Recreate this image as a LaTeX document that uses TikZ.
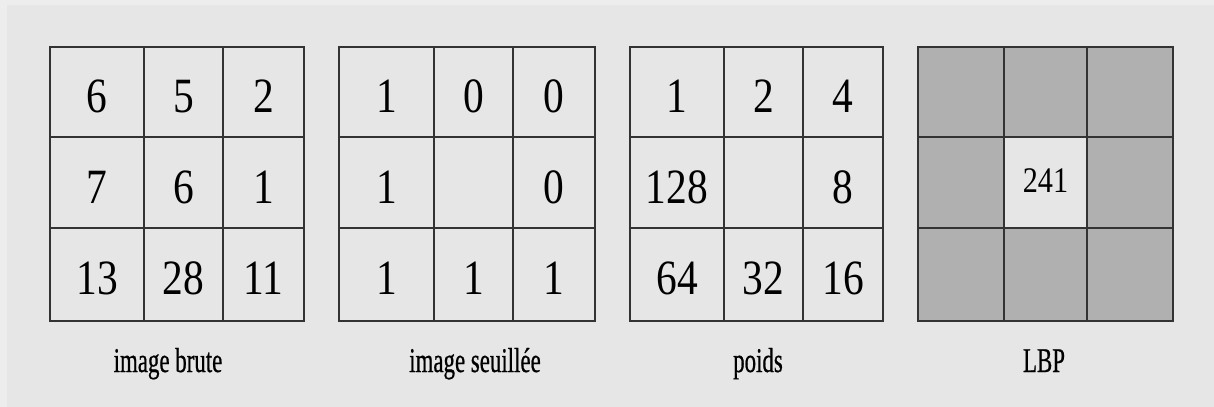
\documentclass[tikz,border=0pt]{standalone}
\usepackage{fontspec}
\setmainfont{Liberation Serif}
\newfontfamily\chiffrefam{Liberation Serif}[FakeStretch=0.84]
\newfontfamily\legendefam{Liberation Serif}[FakeStretch=0.66,FakeBold=0.6]
\newcommand\fontchiffres{\chiffrefam\fontsize{37}{40}\selectfont}
\newcommand\fontpetits{\chiffrefam\fontsize{27}{30}\selectfont}
\newcommand\fontlegendes{\legendefam\fontsize{26}{30}\selectfont}
\usepackage{tikz}
\definecolor{fond}{HTML}{E6E6E6}
\definecolor{fondclair}{HTML}{EDEDED}
\definecolor{gris}{HTML}{B0B0B0}
\definecolor{trait}{HTML}{333333}

\begin{document}
\begin{tikzpicture}[x=0.75pt,y=-0.75pt,
    grille/.style={line width=2pt,draw=trait},
    chiffre/.style={anchor=base,inner sep=0pt,font=\fontchiffres},
    legende/.style={anchor=base,inner sep=0pt,font=\fontlegendes}]
  \useasboundingbox (0,0) rectangle (1214,407);
  \fill[fondclair] (0,0) rectangle (1214,407);
  \fill[fond] (7,5) rectangle (1214,407);
  % image brute
  \draw[grille] (50,47) rectangle (304,321);
  \draw[grille] (144,47) -- (144,321) (223,47) -- (223,321) (50,137) -- (304,137) (50,228) -- (304,228);
  \foreach \x/\y/\v/\n in {97/112/6/hg,183.5/112/5/h,263.5/112/2/hd,
      97/203/7/g,183.5/203/6/c,263.5/203/1/d,
      97/294/13/bg,183.5/294/28/b,263.5/294/11/bd}
    \node[chiffre] (brute-\n) at (\x,\y) {\v};
  \node[legende] (brute) at (168,372) {image brute};
  % image seuillee
  \draw[grille] (339,47) rectangle (595,321);
  \draw[grille] (434,47) -- (434,321) (513,47) -- (513,321) (339,137) -- (595,137) (339,228) -- (595,228);
  \foreach \x/\y/\v/\n in {386.5/112/1/hg,473.5/112/0/h,554/112/0/hd,
      386.5/203/1/g,554/203/0/d,
      386.5/294/1/bg,473.5/294/1/b,554/294/1/bd}
    \node[chiffre] (seuil-\n) at (\x,\y) {\v};
  \node[legende] (seuil) at (475,372) {image seuillée};
  % poids
  \draw[grille] (630,47) rectangle (883,321);
  \draw[grille] (724,47) -- (724,321) (803,47) -- (803,321) (630,137) -- (883,137) (630,228) -- (883,228);
  \foreach \x/\y/\v/\n in {677/112/1/hg,763.5/112/2/h,843/112/4/hd,
      677/203/128/g,843/203/8/d,
      677/294/64/bg,763.5/294/32/b,843/294/16/bd}
    \node[chiffre] (poids-\n) at (\x,\y) {\v};
  \node[legende] (poids) at (758,372) {poids};
  % LBP
  \fill[gris] (918,47) rectangle (1173,321);
  \fill[fond] (1004,137) rectangle (1087,228);
  \draw[grille] (918,47) rectangle (1173,321);
  \draw[grille] (1004,47) -- (1004,321) (1087,47) -- (1087,321) (918,137) -- (1173,137) (918,228) -- (1173,228);
  \node[chiffre,font=\fontpetits] (lbp-c) at (1045.5,192) {241};
  \node[legende] (lbp) at (1044,372) {LBP};
\end{tikzpicture}
\end{document}
